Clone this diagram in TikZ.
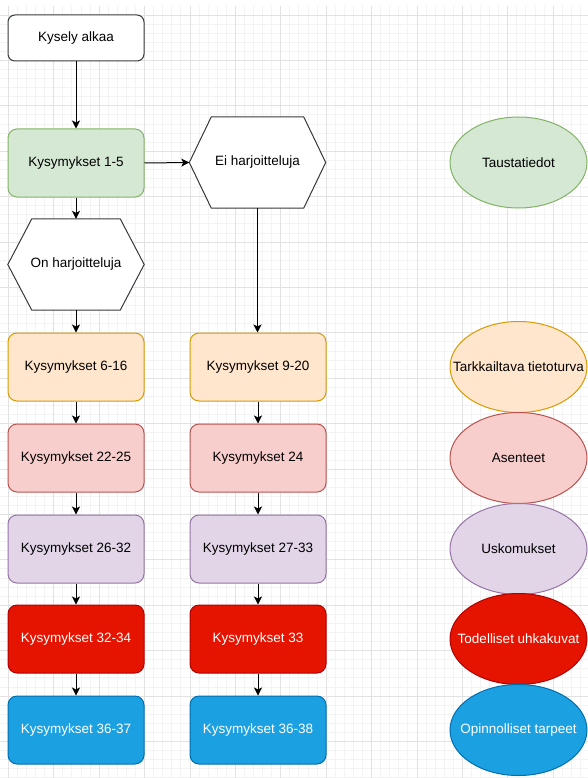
\documentclass[tikz,border=0pt]{standalone}
\usepackage{fontspec}
\setmainfont{Liberation Sans}
\usetikzlibrary{arrows.meta,shapes.geometric,calc}
\definecolor{gminor}{HTML}{F3F3F3}
\definecolor{gmajor}{HTML}{E2E2E2}
\definecolor{greenF}{HTML}{D5E8D4}\definecolor{greenS}{HTML}{82B366}
\definecolor{orangeF}{HTML}{FFE6CC}\definecolor{orangeS}{HTML}{D79B00}
\definecolor{pinkF}{HTML}{F8CECC}\definecolor{pinkS}{HTML}{B85450}
\definecolor{purpF}{HTML}{E1D5E7}\definecolor{purpS}{HTML}{9673A6}
\definecolor{redF}{HTML}{E51400}\definecolor{redS}{HTML}{B20000}
\definecolor{blueF}{HTML}{1BA1E2}\definecolor{blueS}{HTML}{006EAF}
\definecolor{darkS}{HTML}{36393D}
\tikzset{
  lbl/.style={font=\fontsize{13.5}{16}\selectfont, text=black},
  box/.style={rectangle, rounded corners=9, minimum width=136, minimum height=68, draw, line width=1pt, inner sep=0, lbl},
  hexbox/.style={rectangle, minimum width=136, minimum height=91, inner sep=0, lbl},
  hexline/.style={draw=darkS, fill=white, line width=1pt},
  ell/.style={ellipse, minimum width=137, minimum height=91, inner sep=0, draw, line width=1pt},
  grn/.style={fill=greenF, draw=greenS},
  org/.style={fill=orangeF, draw=orangeS},
  pnk/.style={fill=pinkF, draw=pinkS},
  prp/.style={fill=purpF, draw=purpS},
  rd/.style={fill=redF, draw=redS, text=white},
  bl/.style={fill=blueF, draw=blueS, text=white},
  arr/.style={draw=black, line width=1pt, -{Stealth[length=8pt,width=8pt,inset=2pt]}},
}
\begin{document}
\begin{tikzpicture}[x=1pt,y=-1pt]
\useasboundingbox (0,0) rectangle (588,778);
\fill[white] (0,0) rectangle (588,778);
% grid
\foreach \k in {-1,...,64} \draw[gminor, line width=0.8pt] ({8.3+9.08*\k},6) -- ({8.3+9.08*\k},778);
\foreach \k in {0,...,84} \draw[gminor, line width=0.8pt] (0,{15+9.08*\k}) -- (588,{15+9.08*\k});
\foreach \k in {0,...,12} \draw[gmajor, line width=0.8pt] ({8.3+45.4*\k},6) -- ({8.3+45.4*\k},778);
\foreach \k in {0,...,16} \draw[gmajor, line width=0.8pt] (0,{15+45.4*\k}) -- (588,{15+45.4*\k});

% top
\node[box, rounded corners=7, minimum height=46, fill=white, draw=darkS] (start) at (76,38) {Kysely alkaa};
\node[box, grn] (q15) at (76,163) {Kysymykset 1-5};

% hexagons
\node[hexbox] (ei) at (257.5,162.5) {};
\draw[hexline] (ei.west) -- ([xshift=22pt]ei.north west) -- ([xshift=-22pt]ei.north east) -- (ei.east) -- ([xshift=-22pt]ei.south east) -- ([xshift=22pt]ei.south west) -- cycle;
\node[lbl] at (ei) {Ei harjoitteluja};
\node[hexbox] (on) at (76,264.5) {};
\draw[hexline] (on.west) -- ([xshift=24pt]on.north west) -- ([xshift=-24pt]on.north east) -- (on.east) -- ([xshift=-24pt]on.south east) -- ([xshift=24pt]on.south west) -- cycle;
\node[lbl] at (on) {On harjoitteluja};

% left column
\node[box, org] (l1) at (76,367) {Kysymykset 6-16};
\node[box, pnk] (l2) at (76,458) {Kysymykset 22-25};
\node[box, prp] (l3) at (76,549) {Kysymykset 26-32};
\node[box, rd]  (l4) at (76,639) {Kysymykset 32-34};
\node[box, bl]  (l5) at (76,730) {Kysymykset 36-37};

% right column
\node[box, org] (r1) at (258,367) {Kysymykset 9-20};
\node[box, pnk] (r2) at (258,458) {Kysymykset 24};
\node[box, prp] (r3) at (258,549) {Kysymykset 27-33};
\node[box, rd]  (r4) at (258,639) {Kysymykset 33};
\node[box, bl]  (r5) at (258,730) {Kysymykset 36-38};

% ellipses
\node[ell, grn] (e0) at (518.5,162.5) {};
\node[lbl] at (e0) {Taustatiedot};
\node[ell, org] (e1) at (518.5,367) {};
\node[lbl] at (e1) {Tarkkailtava tietoturva};
\node[ell, pnk] (e2) at (518.5,458) {};
\node[lbl] at (e2) {Asenteet};
\node[ell, prp] (e3) at (518.5,549) {};
\node[lbl] at (e3) {Uskomukset};
\node[ell, rd] (e4) at (518.5,639) {};
\node[lbl, text=white] at (e4) {Todelliset uhkakuvat};
\node[ell, bl] (e5) at (518.5,730) {};
\node[lbl, text=white] at (e5) {Opinnolliset tarpeet};

% connectors
\draw[arr] (start.south) -- (q15.north);
\draw[arr] (q15.east) -- (ei.west);
\draw[arr] (q15.south) -- (on.north);
\draw[arr] (on.south) -- (l1.north);
\draw[arr] (ei.south) -- (ei.south |- r1.north);
\draw[arr] (l1) -- (l2);
\draw[arr] (l2) -- (l3);
\draw[arr] (l3) -- (l4);
\draw[arr] (l4) -- (l5);
\draw[arr] (r1) -- (r2);
\draw[arr] (r2) -- (r3);
\draw[arr] (r3) -- (r4);
\draw[arr] (r4) -- (r5);
\end{tikzpicture}
\end{document}
